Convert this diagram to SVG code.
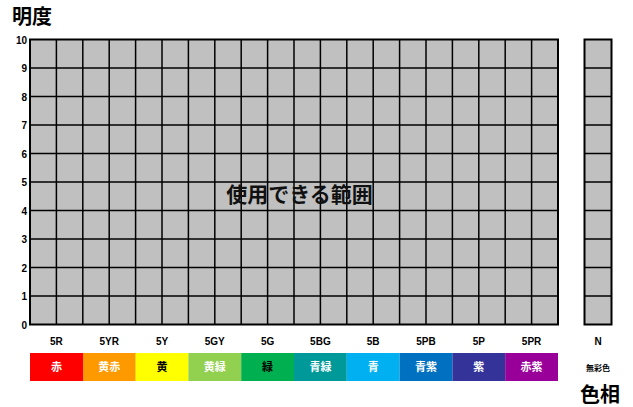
<svg xmlns="http://www.w3.org/2000/svg" width="633" height="407" viewBox="0 0 633 407">
<style>
  .t{font-family:"Liberation Sans","Noto Sans CJK JP",sans-serif;font-weight:bold;}
  .ax{font-size:10px;text-anchor:end;dominant-baseline:central;}
  .hue{font-size:10px;text-anchor:middle;dominant-baseline:central;}
  .bar{font-size:11px;text-anchor:middle;dominant-baseline:central;fill:#fff;}
  .grid{fill:#c0c0c0;stroke:#000;stroke-width:2;}
  .gl{stroke:#000;stroke-width:1.5;fill:none;}
</style>
<rect width="633" height="407" fill="#fff"/>
<text class="t" x="12" y="24" font-size="20">明度</text>
<g id="main-grid">
  <rect class="grid" x="30" y="39.5" width="528" height="285"/>
  <path class="gl" d="M56.4 39.5V324.5M82.8 39.5V324.5M109.2 39.5V324.5M135.6 39.5V324.5M162 39.5V324.5M188.4 39.5V324.5M214.8 39.5V324.5M241.2 39.5V324.5M267.6 39.5V324.5M294 39.5V324.5M320.4 39.5V324.5M346.8 39.5V324.5M373.2 39.5V324.5M399.6 39.5V324.5M426 39.5V324.5M452.4 39.5V324.5M478.8 39.5V324.5M505.2 39.5V324.5M531.6 39.5V324.5"/>
  <path class="gl" d="M30 68H558M30 96.5H558M30 125H558M30 153.5H558M30 182H558M30 210.5H558M30 239H558M30 267.5H558M30 296H558"/>
  <text class="t" x="299.5" y="194" font-size="21" text-anchor="middle" dominant-baseline="central" fill="#111">使用できる範囲</text>
</g>
<g id="n-grid">
  <rect class="grid" x="584.5" y="39.5" width="27" height="285"/>
  <path class="gl" d="M584.5 68H611.5M584.5 96.5H611.5M584.5 125H611.5M584.5 153.5H611.5M584.5 182H611.5M584.5 210.5H611.5M584.5 239H611.5M584.5 267.5H611.5M584.5 296H611.5"/>
</g>
<g id="axis" class="t ax">
  <text x="27" y="40">10</text>
  <text x="27" y="68.5">9</text>
  <text x="27" y="97">8</text>
  <text x="27" y="125.5">7</text>
  <text x="27" y="154">6</text>
  <text x="27" y="182.5">5</text>
  <text x="27" y="211">4</text>
  <text x="27" y="239.5">3</text>
  <text x="27" y="268">2</text>
  <text x="27" y="296.5">1</text>
  <text x="27" y="325">0</text>
</g>
<g id="hue-labels" class="t hue">
  <text x="56.4" y="341">5R</text>
  <text x="109.2" y="341">5YR</text>
  <text x="162" y="341">5Y</text>
  <text x="214.8" y="341">5GY</text>
  <text x="267.6" y="341">5G</text>
  <text x="320.4" y="341">5BG</text>
  <text x="373.2" y="341">5B</text>
  <text x="426" y="341">5PB</text>
  <text x="478.8" y="341">5P</text>
  <text x="531.6" y="341">5PR</text>
  <text x="598" y="341">N</text>
</g>
<g id="color-bar">
  <rect x="30" y="353" width="53" height="28" fill="#ff0000"/>
  <rect x="83" y="353" width="52.8" height="28" fill="#ff9900"/>
  <rect x="135.6" y="353" width="52.8" height="28" fill="#ffff00"/>
  <rect x="188.4" y="353" width="52.8" height="28" fill="#92d050"/>
  <rect x="241.2" y="353" width="52.8" height="28" fill="#00b050"/>
  <rect x="294" y="353" width="52.8" height="28" fill="#009999"/>
  <rect x="346.8" y="353" width="52.8" height="28" fill="#00b0f0"/>
  <rect x="399.6" y="353" width="52.8" height="28" fill="#0070c0"/>
  <rect x="452.4" y="353" width="52.8" height="28" fill="#333399"/>
  <rect x="505.2" y="353" width="52.8" height="28" fill="#990099"/>
  <g class="t bar">
    <text x="56.4" y="367">赤</text>
    <text x="109.2" y="367">黄赤</text>
    <text x="162" y="367" fill="#000">黄</text>
    <text x="214.8" y="367">黄緑</text>
    <text x="267.6" y="367" fill="#000">緑</text>
    <text x="320.4" y="367">青緑</text>
    <text x="373.2" y="367">青</text>
    <text x="426" y="367">青紫</text>
    <text x="478.8" y="367">紫</text>
    <text x="531.6" y="367">赤紫</text>
  </g>
  <text class="t" x="598" y="368" font-size="8" text-anchor="middle" dominant-baseline="central">無彩色</text>
</g>
<text class="t" x="580" y="402" font-size="20">色相</text>
</svg>
